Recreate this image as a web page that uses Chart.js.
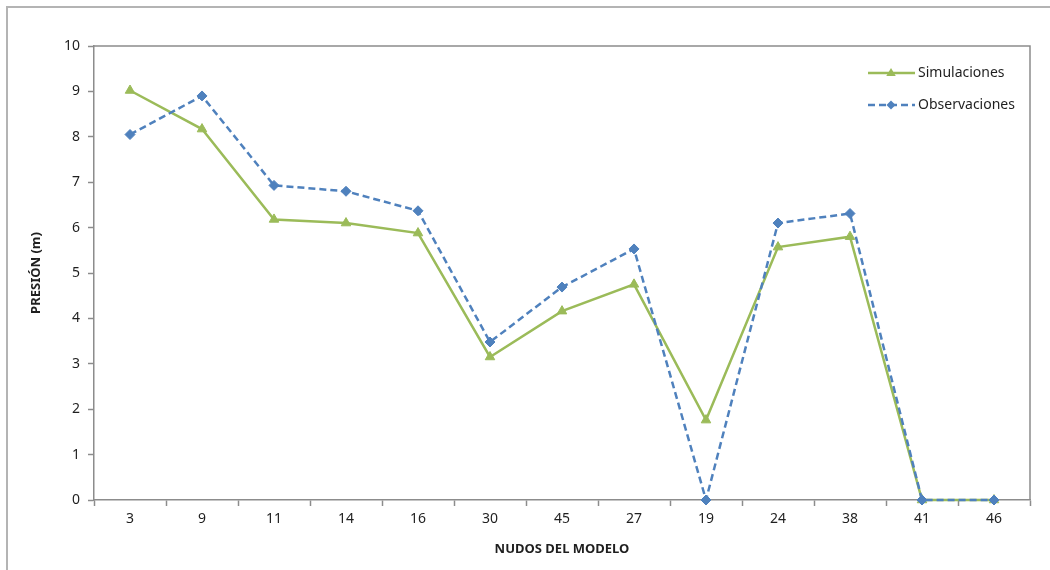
<!DOCTYPE html>
<html>
<head>
<meta charset="utf-8">
<script src="https://cdn.jsdelivr.net/npm/chart.js@4/dist/chart.umd.min.js"></script>
<style>
  html, body { margin: 0; padding: 0; background: #fff; }
  #wrap { position: relative; width: 1050px; height: 570px; overflow: hidden; }
  #frame {
    position: absolute; left: 6px; top: 6px; width: 1100px; height: 600px;
    border-left: 2px solid #b4b4b4; border-top: 2px solid #b4b4b4;
  }
  canvas { position: absolute; left: 0; top: 0; }
</style>
</head>
<body>
<div id="wrap">
  <div id="frame"></div>
  <canvas id="chart" width="1050" height="570"></canvas>
</div>
<script>
const nudos = ["3", "9", "11", "14", "16", "30", "45", "27", "19", "24", "38", "41", "46"];
const simulaciones = [9.02, 8.17, 6.18, 6.1, 5.88, 3.15, 4.16, 4.75, 1.76, 5.57, 5.8, 0, 0];
const observaciones = [8.05, 8.9, 6.93, 6.8, 6.37, 3.48, 4.69, 5.53, 0, 6.1, 6.31, 0, 0];

const green = "#9bbb59";
const blue = "#4f81bd";
const axisGrey = "#8c8c8c";
const textColor = "#1f1f1f";
const fontFamily = "'Noto Sans', 'DejaVu Sans', sans-serif";

// plot area frame (top and right edges)
const frameBox = {
  id: "frameBox",
  beforeDatasetsDraw(chart) {
    const a = chart.chartArea;
    const ctx = chart.ctx;
    ctx.save();
    ctx.strokeStyle = axisGrey;
    ctx.lineWidth = 1.5;
    ctx.beginPath();
    ctx.moveTo(a.left, a.top);
    ctx.lineTo(a.right, a.top);
    ctx.lineTo(a.right, a.bottom);
    ctx.stroke();
    ctx.restore();
  },
};

function drawMarker(ctx, style, r, x, y) {
  if (style === "triangle") {
    ctx.moveTo(x, y - r);
    ctx.lineTo(x + r * 0.95, y + r * 0.6);
    ctx.lineTo(x - r * 0.95, y + r * 0.6);
    ctx.closePath();
  } else {
    ctx.moveTo(x, y - r);
    ctx.lineTo(x + r, y);
    ctx.lineTo(x, y + r);
    ctx.lineTo(x - r, y);
    ctx.closePath();
  }
}

// legend drawn inside the plot, top right
const innerLegend = {
  id: "innerLegend",
  afterDraw(chart) {
    const ctx = chart.ctx;
    const rows = [
      { ds: chart.data.datasets[1], y: 73 },
      { ds: chart.data.datasets[0], y: 105 },
    ];
    ctx.save();
    rows.forEach(function (r) {
      const ds = r.ds;
      ctx.strokeStyle = ds.borderColor;
      ctx.lineWidth = ds.borderWidth;
      ctx.setLineDash(ds.borderDash || []);
      ctx.beginPath();
      ctx.moveTo(868, r.y);
      ctx.lineTo(915, r.y);
      ctx.stroke();
      ctx.setLineDash([]);
      ctx.fillStyle = ds.backgroundColor;
      ctx.beginPath();
      drawMarker(ctx, ds.pointStyle, ds.pointRadius - 0.5, 891, r.y);
      ctx.fill();
      ctx.fillStyle = textColor;
      ctx.font = "14px " + fontFamily;
      ctx.textAlign = "left";
      ctx.textBaseline = "middle";
      ctx.fillText(ds.label, 918, r.y);
    });
    ctx.restore();
  },
};

new Chart(document.getElementById("chart"), {
  type: "line",
  data: {
    labels: nudos,
    datasets: [
      {
        label: "Observaciones",
        data: observaciones,
        borderColor: blue,
        backgroundColor: blue,
        borderWidth: 2.5,
        borderDash: [7, 4],
        pointStyle: "rectRot",
        pointRadius: 5,
        pointBorderWidth: 1,
        tension: 0,
        clip: false,
        order: 0,
      },
      {
        label: "Simulaciones",
        data: simulaciones,
        borderColor: green,
        backgroundColor: green,
        borderWidth: 2.5,
        pointStyle: "triangle",
        pointRadius: 5.5,
        pointBorderWidth: 1,
        tension: 0,
        clip: false,
        order: 1,
      },
    ],
  },
  options: {
    responsive: false,
    animation: false,
    layout: { padding: { left: 0, right: 20, top: 46, bottom: 0 } },
    plugins: {
      legend: { display: false },
      tooltip: { enabled: false },
    },
    scales: {
      x: {
        offset: true,
        afterFit: function (scale) { scale.height = 70; },
        grid: {
          offset: true,
          drawOnChartArea: false,
          drawTicks: true,
          tickLength: 6,
          tickColor: axisGrey,
          tickWidth: 1.5,
        },
        border: { color: axisGrey, width: 1.5 },
        ticks: {
          color: textColor,
          padding: 5,
          maxRotation: 0,
          font: { family: fontFamily, size: 14 },
        },
        title: {
          display: true,
          text: "NUDOS DEL MODELO",
          color: textColor,
          padding: { top: 0, bottom: 13 },
          font: { family: fontFamily, size: 13, weight: "bold" },
        },
      },
      y: {
        min: 0,
        max: 10,
        afterFit: function (scale) { scale.width = 94; },
        grid: {
          drawOnChartArea: false,
          drawTicks: true,
          tickLength: 6,
          tickColor: axisGrey,
          tickWidth: 1.5,
        },
        border: { color: axisGrey, width: 1.5 },
        ticks: {
          stepSize: 1,
          color: textColor,
          padding: 8,
          font: { family: fontFamily, size: 14 },
        },
        title: {
          display: true,
          text: "PRESIÓN (m)",
          color: textColor,
          padding: { top: 28, bottom: 0 },
          font: { family: fontFamily, size: 13, weight: "bold" },
        },
      },
    },
  },
  plugins: [frameBox, innerLegend],
});
</script>
</body>
</html>
